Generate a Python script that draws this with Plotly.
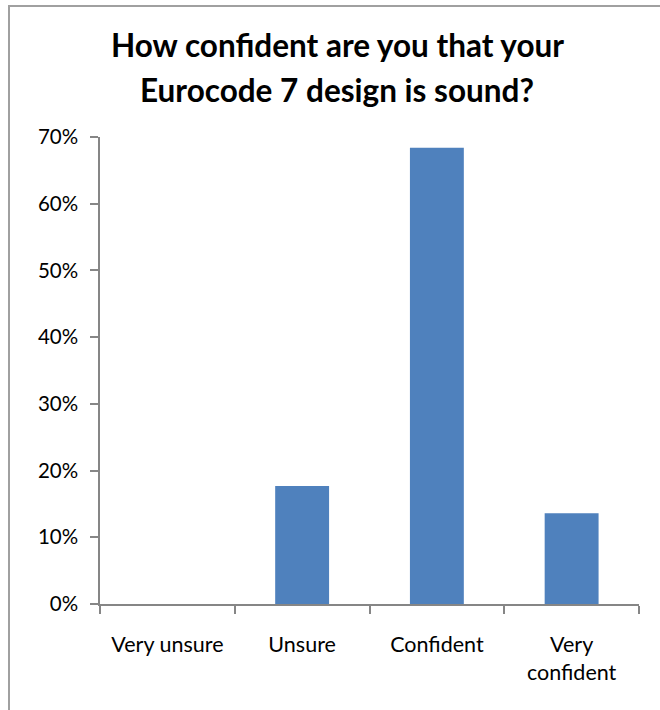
import plotly.graph_objects as go

# Survey responses (share of respondents)
categories = ["Very unsure", "Unsure", "Confident", "Very<br>confident"]
shares = [0.0, 0.177, 0.684, 0.136]
y_ticks = [0, 0.1, 0.2, 0.3, 0.4, 0.5, 0.6, 0.7]
y_tick_labels = ["0%", "10%", "20%", "30%", "40%", "50%", "60%", "70%"]
title_lines = ["How confident are you that your", "Eurocode 7 design is sound?"]

FONT = "Lato"
AXIS_GRAY = "#868686"
BAR_BLUE = "#4F81BD"

fig = go.Figure(
    go.Bar(
        x=categories,
        y=shares,
        width=0.4,
        marker=dict(color=BAR_BLUE, line=dict(width=0)),
    )
)

W, H = 660, 710
ml, mr, mt, mb = 100, 21, 137, 106
pw, ph = W - ml - mr, H - mt - mb

fig.update_layout(
    width=W,
    height=H,
    margin=dict(l=ml, r=mr, t=mt, b=mb, pad=0),
    paper_bgcolor="white",
    plot_bgcolor="white",
    showlegend=False,
    font=dict(family=FONT, color="#000000"),
    xaxis=dict(
        range=[-0.5, 3.5],
        showline=True,
        linecolor=AXIS_GRAY,
        linewidth=1.5,
        ticks="outside",
        tickson="boundaries",
        ticklen=8,
        tickcolor=AXIS_GRAY,
        tickwidth=1.5,
        showgrid=False,
        tickfont=dict(size=21.5, family=FONT),
        ticklabelstandoff=20,
        fixedrange=True,
    ),
    yaxis=dict(
        range=[0, 0.7],
        tickvals=y_ticks,
        ticktext=y_tick_labels,
        showline=True,
        linecolor=AXIS_GRAY,
        linewidth=1.5,
        ticks="outside",
        ticklen=8,
        tickcolor=AXIS_GRAY,
        tickwidth=1.5,
        showgrid=False,
        zeroline=False,
        tickfont=dict(size=20.5, family=FONT),
        ticklabelstandoff=8,
        fixedrange=True,
    ),
)

# Chart area frame (left and top edges visible)
fig.add_shape(
    type="rect",
    xref="paper", yref="paper",
    x0=(9 - ml) / pw, x1=(W + 20 - ml) / pw,
    y0=-(mb + 20) / ph, y1=1 + (mt - 6) / ph,
    line=dict(color="#A0A0A0", width=2),
    fillcolor="rgba(0,0,0,0)",
    layer="below",
)

# Two-line bold title
for i, line in enumerate(title_lines):
    fig.add_annotation(
        text=f"<b>{line}</b>",
        xref="paper", yref="paper",
        x=(337 - ml) / pw,
        y=1 + (mt - (45 + 45 * i)) / ph,
        xanchor="center", yanchor="middle",
        showarrow=False,
        font=dict(size=31.5, family=FONT, color="#000000"),
    )

fig.write_html("out.html")
